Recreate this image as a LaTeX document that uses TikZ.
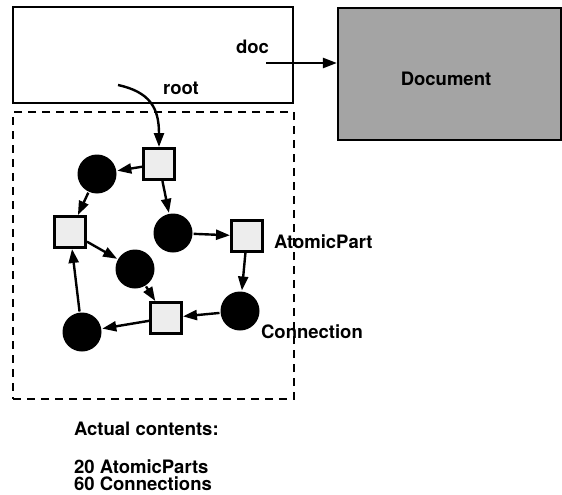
\documentclass[tikz,border=0pt]{standalone}
\usepackage{fontspec}
\setmainfont{TeX Gyre Heros}
\usetikzlibrary{arrows.meta, positioning}
\definecolor{cshade}{HTML}{A4A4A4}
\definecolor{clight}{HTML}{EDEDED}
\tikzset{
  every picture/.style={font=\fontsize{18.5}{18.5}\selectfont\bfseries, line width=2.2pt},
  part/.style={draw, fill=clight, line width=3pt, minimum size=31pt, inner sep=0pt},
  conn/.style={circle, fill=black, minimum size=39pt, inner sep=0pt},
  arrow/.style={-{Triangle[length=14pt, width=10pt]}, line width=2.4pt},
  lbl/.style={anchor=base west, inner sep=0pt},
}

\begin{document}
\begin{tikzpicture}[x=1pt, y=-1pt]
  \useasboundingbox (0,0) rectangle (562,495);
  % composite part and its document
  \node[draw, minimum width=280pt, minimum height=96pt, inner sep=0pt] (comppart) at (153,55) {};
  \node[draw, fill=cshade, minimum width=223pt, minimum height=132pt, inner sep=0pt] (document) at (449.5,74) {};
  \node[anchor=base, inner sep=0pt] (doctitle) at (446,85) {Document};
  \node[lbl] (doclbl) at (235,53) {doc};
  \node[lbl] (rootlbl) at (162,95) {root};
  \coordinate (docstart) at (266,63);
  \coordinate (rootstart) at (118,85);
  \draw[arrow] (docstart) -- (docstart -| document.west);
  % graph of atomic parts
  \node[draw, dashed, dash pattern=on 8pt off 6pt, line width=2.4pt, minimum width=281pt, minimum height=287pt, inner sep=0pt] (graph) at (153.5,255.5) {};
  \node[part] (s1) at (159,164) {};
  \node[part] (s2) at (70,232) {};
  \node[part] (s3) at (247,236) {};
  \node[part] (s4) at (166,318) {};
  \node[conn] (c1) at (97,174) {};
  \node[conn] (c2) at (173,233) {};
  \node[conn] (c3) at (135,269) {};
  \node[conn] (c4) at (240,311) {};
  \node[conn] (c5) at (82,332) {};
  \draw[arrow] (rootstart) .. controls (150,92) and (159,108) .. (s1.north);
  \foreach \a/\b in {s1/c1, s1/c2, c1/s2, s2/c3, c3/s4, c2/s3, s3/c4, c4/s4, s4/c5, c5/s2}
    \draw[arrow] (\a) -- (\b);
  \node[lbl] (partlbl) at (273,248) {AtomicPart};
  \node[lbl] (connlbl) at (260,338) {Connection};
  % totals
  \node[lbl] (actual) at (73,435) {Actual contents:};
  \node[lbl] (nparts) at (73,473) {20 AtomicParts};
  \node[lbl] (nconns) at (73,490) {60 Connections};
\end{tikzpicture}
\end{document}
